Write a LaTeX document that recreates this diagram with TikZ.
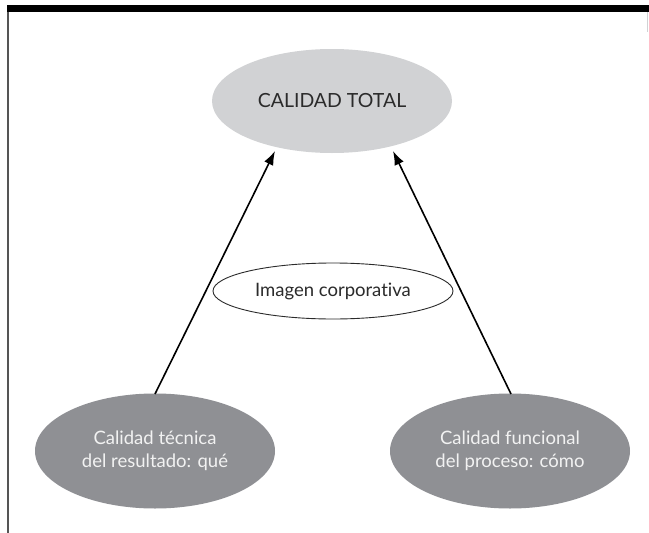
\documentclass[tikz,border=0pt]{standalone}
\usepackage{fontspec}
\setmainfont{Lato}[Ligatures={NoCommon}]
\usetikzlibrary{shapes.geometric,arrows.meta}
\definecolor{lightell}{HTML}{D1D2D4}
\definecolor{darkell}{HTML}{8F9094}
\definecolor{toptext}{HTML}{2B2B2B}
\definecolor{bottext}{HTML}{F2F2F2}
\definecolor{framegray}{HTML}{555555}
\tikzset{
  ell/.style={ellipse, inner sep=0pt, align=center, font=\fontsize{18.5}{23.5}\selectfont},
  topell/.style={ell, fill=lightell, text=toptext, minimum width=240pt, minimum height=104pt, font=\fontsize{19.5}{23}\selectfont},
  botell/.style={ell, fill=darkell, text=bottext, minimum width=240pt, minimum height=115pt},
  midell/.style={ell, draw=toptext, line width=0.9pt, fill=white, text=toptext, minimum width=240pt, minimum height=56pt},
  arr/.style={line width=1.6pt, -{Latex[length=14pt,width=10pt]}}
}
\begin{document}
\begin{tikzpicture}[x=1pt,y=-1pt]
\useasboundingbox (0,0) rectangle (649,533);
\fill[white] (0,0) rectangle (649,533);
% frame
\fill[black] (7,5) rectangle (649,12);
\draw[framegray, line width=2pt] (7.5,12) -- (7.5,533);
\draw[lightell, line width=1pt] (647.5,12) -- (647.5,32);
% nodes
\node[topell] (top) at (332,101) {CALIDAD TOTAL};
\node[midell] (mid) at (333,291) {Imagen corpora{}tiva};
\node[botell] (bl) at (155,451) {Calidad técnica\\del resultado: qué};
\node[botell] (br) at (510,451) {Calidad funcional\\del proceso: cómo};
% arrow ends
\coordinate (t1) at (275,151);
\coordinate (t2) at (393,151);
\coordinate (s1) at (155,394);
\coordinate (s2) at (511,394);
\draw[arr] (s1) -- (t1);
\draw[arr] (s2) -- (t2);
\end{tikzpicture}
\end{document}
